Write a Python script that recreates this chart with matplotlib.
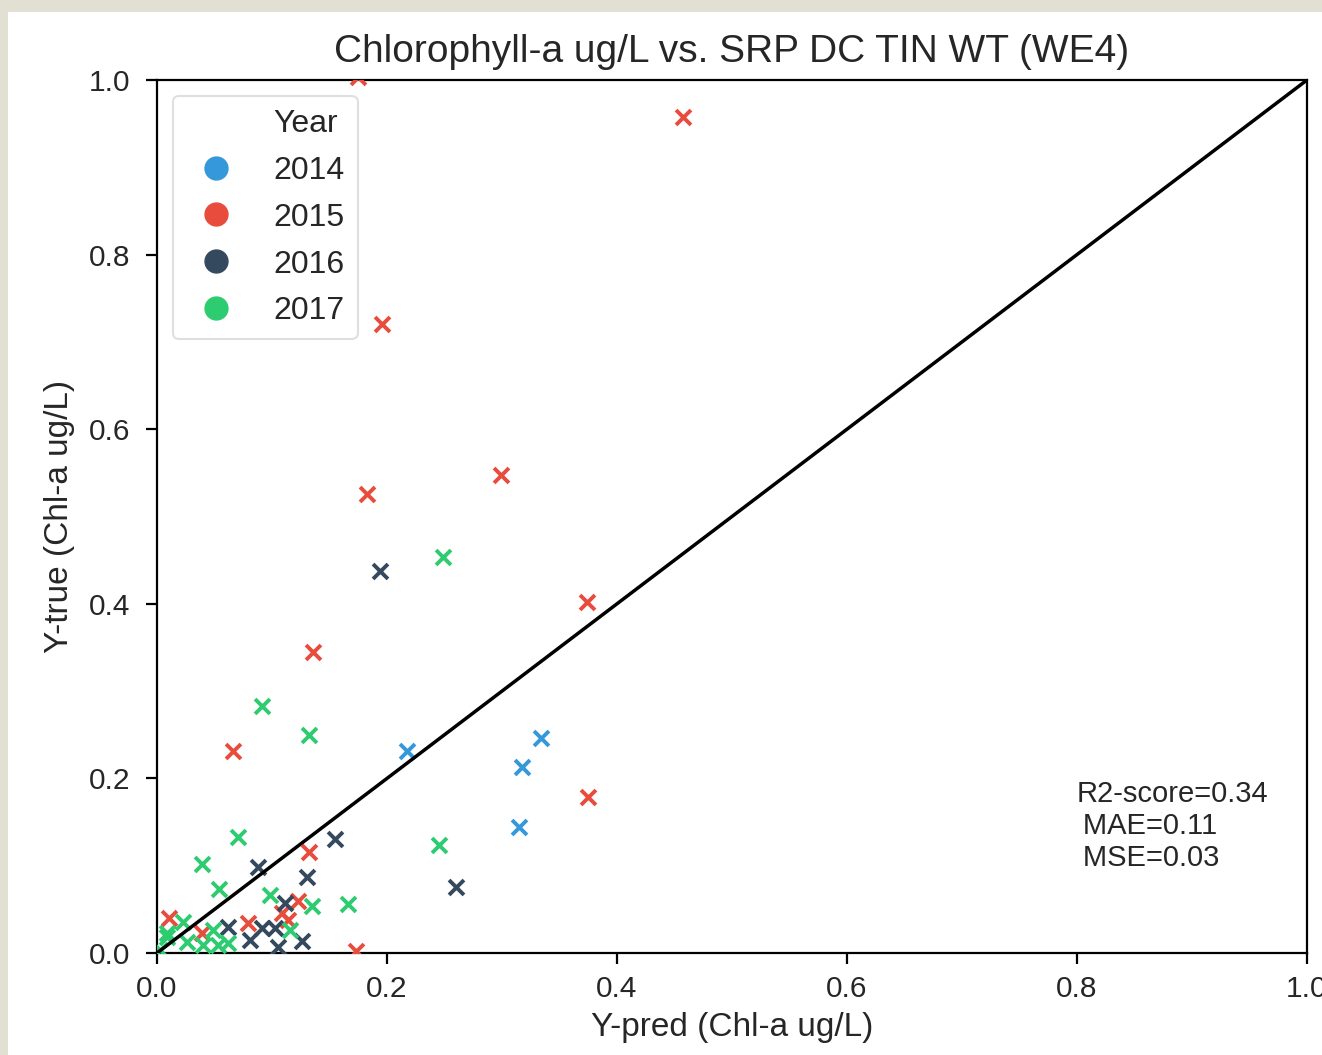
import matplotlib
matplotlib.use("Agg")
import matplotlib.pyplot as plt
from matplotlib.lines import Line2D
from matplotlib.patches import Rectangle

years = ["2014", "2015", "2016", "2017"]
colors = ["#3498db", "#e74c3c", "#34495e", "#2ecc71"]

x_2014 = [0.217, 0.317, 0.334, 0.315]
y_2014 = [0.231, 0.213, 0.246, 0.144]

x_2015 = [0.175, 0.457, 0.196, 0.183, 0.299, 0.374, 0.136, 0.066, 0.375, 0.132,
          0.123, 0.173, 0.010, 0.039, 0.079, 0.109, 0.114]
y_2015 = [1.003, 0.958, 0.720, 0.526, 0.548, 0.402, 0.345, 0.231, 0.179, 0.116,
          0.060, 0.002, 0.040, 0.023, 0.034, 0.046, 0.038]

x_2016 = [0.194, 0.155, 0.088, 0.130, 0.260, 0.111, 0.126, 0.105, 0.103, 0.091,
          0.081, 0.062]
y_2016 = [0.438, 0.131, 0.099, 0.087, 0.076, 0.057, 0.014, 0.007, 0.029, 0.029,
          0.015, 0.030]

x_2017 = [0.249, 0.091, 0.132, 0.070, 0.039, 0.245, 0.054, 0.098, 0.135, 0.166,
          0.009, 0.023, 0.009, 0.049, 0.026, 0.040, 0.062, 0.053, 0.116, 0.003]
y_2017 = [0.454, 0.283, 0.250, 0.133, 0.102, 0.124, 0.073, 0.066, 0.054, 0.056,
          0.018, 0.036, 0.023, 0.026, 0.013, 0.009, 0.011, 0.009, 0.026, 0.004]

xs = [x_2014, x_2015, x_2016, x_2017]
ys = [y_2014, y_2015, y_2016, y_2017]

ticks = [0.0, 0.2, 0.4, 0.6, 0.8, 1.0]
tick_labels = ["0.0", "0.2", "0.4", "0.6", "0.8", "1.0"]
metrics = "R2-score=0.34\n\u2009MAE=0.11\n\u2009MSE=0.03"

plt.rcParams["font.family"] = ["Liberation Sans", "DejaVu Sans"]
txt_color = "#262626"

fig = plt.figure(figsize=(13.22, 10.55), dpi=100)
fig.patch.set_facecolor("#e2dfd3")
fig.patches.append(Rectangle((8 / 1322, 0), 1 - 8 / 1322, 1 - 12 / 1055,
                             transform=fig.transFigure, facecolor="white",
                             edgecolor="none", zorder=-10))

ax = fig.add_axes([157 / 1322, (1055 - 953) / 1055, 1150 / 1322, 873 / 1055])
ax.set_facecolor("white")

for xv, yv, c in zip(xs, ys, colors):
    ax.scatter(xv, yv, marker="x", s=115, linewidths=2.8, color=c, zorder=3)

ax.plot([0, 1], [0, 1], color="black", lw=2.5, zorder=4)

ax.set_xlim(0, 1)
ax.set_ylim(0, 1)
ax.set_xticks(ticks)
ax.set_xticklabels(tick_labels)
ax.set_yticks(ticks)
ax.set_yticklabels(tick_labels)
ax.tick_params(axis="both", direction="out", length=8, width=1.6,
               colors="black", labelcolor=txt_color, labelsize=21.5)
ax.tick_params(axis="y", pad=11)
ax.tick_params(axis="x", pad=8)
for sp in ax.spines.values():
    sp.set_linewidth(1.6)
    sp.set_color("black")

ax.set_title("Chlorophyll-a ug/L vs. SRP DC TIN WT (WE4)", fontsize=28,
             color=txt_color, pad=13)
ax.set_xlabel("Y-pred (Chl-a ug/L)", fontsize=24, color=txt_color, labelpad=6)
ax.set_ylabel("Y-true (Chl-a ug/L)", fontsize=24, color=txt_color, labelpad=10)

ax.text(0.8, 0.093, metrics, fontsize=21, color=txt_color, ha="left",
        va="bottom", linespacing=1.17, zorder=5)

handles = [Line2D([], [], linestyle="none", marker="o", markersize=0, color="white")]
labels = ["Year"]
for yr, c in zip(years, colors):
    handles.append(Line2D([], [], linestyle="none", marker="o", markersize=16.5,
                          color=c))
    labels.append(yr)
leg = ax.legend(handles, labels, loc="upper left", fontsize=23, frameon=True,
                labelspacing=0.53, handletextpad=0.85, borderpad=0.4,
                handlelength=1.9)
leg.get_frame().set_edgecolor("#d8d8d8")
leg.get_frame().set_linewidth(1.5)
for t in leg.get_texts():
    t.set_color(txt_color)

fig.savefig("out.png", dpi=100, facecolor=fig.get_facecolor())
